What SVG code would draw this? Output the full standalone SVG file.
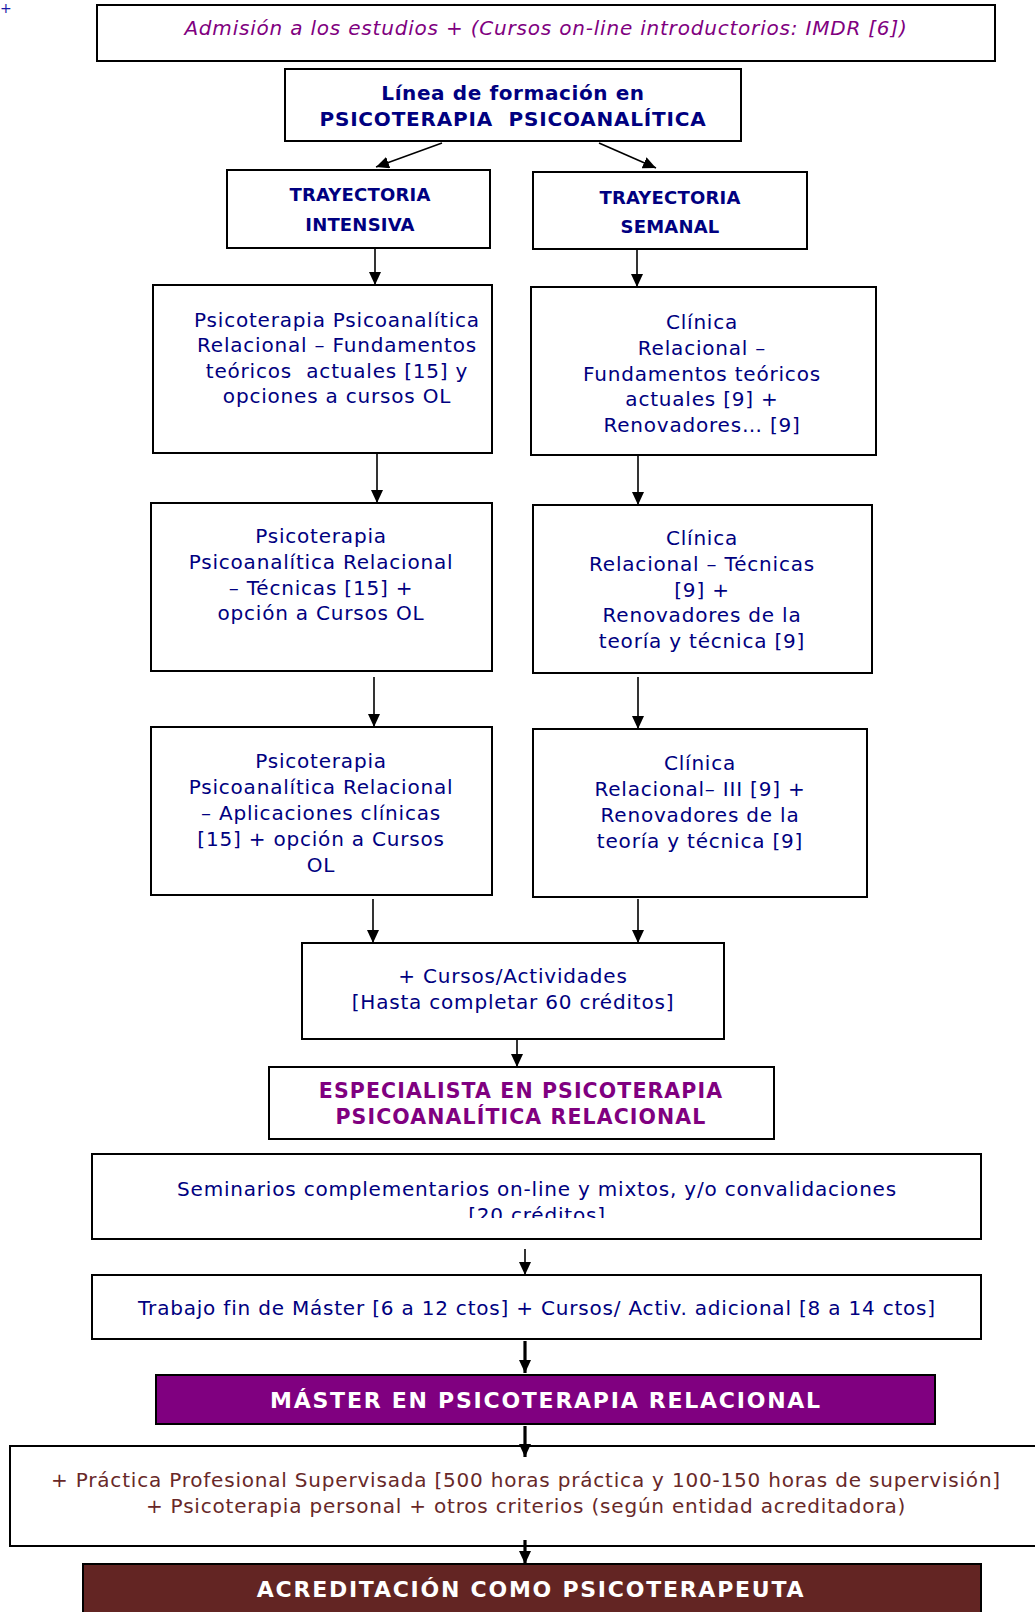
<svg xmlns="http://www.w3.org/2000/svg" width="1035" height="1612" viewBox="0 0 1035 1612">
<style>
.box{fill:#fff;stroke:#000;stroke-width:2}
.t{font-family:"DejaVu Sans",Verdana,sans-serif;font-size:20px;letter-spacing:0.8px;fill:#000080;text-anchor:middle}
.b{font-weight:bold}
.p{fill:#800080}
.m{fill:#682828}
.w{fill:#fff}
.c{stroke:#000;stroke-width:1.6;fill:none}
.k{stroke-width:3.2}
</style>
<defs>
<marker id="ah" markerUnits="userSpaceOnUse" markerWidth="14" markerHeight="12" refX="13" refY="6" orient="auto">
<path d="M0,0 L13,6 L0,12 z" fill="#000"/>
</marker>
<clipPath id="semclip"><rect x="92" y="1154" width="889" height="64"/></clipPath>
</defs>
<rect width="1035" height="1612" fill="#fff"/>
<text x="0" y="13" class="t" style="text-anchor:start;font-size:14px;letter-spacing:0;fill:#1a1aa6">+</text>

<g id="n-admision">
<rect class="box" x="97" y="5" width="898" height="56"/>
<text class="t p" x="546" y="35" style="font-style:italic">Admisión a los estudios + (Cursos on-line introductorios: IMDR [6])</text>
</g>
<g id="n-linea">
<rect class="box" x="285" y="69" width="456" height="72"/>
<text class="t b" x="513" y="100" style="font-size:20px;letter-spacing:0.6px">Línea de formación en</text>
<text class="t b" x="513" y="126" style="font-size:20px;letter-spacing:0.8px" xml:space="preserve">PSICOTERAPIA  PSICOANALÍTICA</text>
</g>
<g id="n-intensiva">
<rect class="box" x="227" y="170" width="263" height="78"/>
<text class="t b" x="360" y="201" style="font-size:18px;letter-spacing:0.2px">TRAYECTORIA</text>
<text class="t b" x="360" y="231" style="font-size:18px;letter-spacing:0.2px">INTENSIVA</text>
</g>
<g id="n-semanal">
<rect class="box" x="533" y="172" width="274" height="77"/>
<text class="t b" x="670" y="204" style="font-size:18px;letter-spacing:0.2px">TRAYECTORIA</text>
<text class="t b" x="670" y="233" style="font-size:18px;letter-spacing:0.2px">SEMANAL</text>
</g>
<g id="n-int1">
<rect class="box" x="153" y="285" width="339" height="168"/>
<text class="t" x="337" y="327">Psicoterapia Psicoanalítica</text>
<text class="t" x="337" y="352">Relacional – Fundamentos</text>
<text class="t" x="337" y="378" xml:space="preserve">teóricos  actuales [15] y</text>
<text class="t" x="337" y="403">opciones a cursos OL</text>
</g>
<g id="n-sem1">
<rect class="box" x="531" y="287" width="345" height="168"/>
<text class="t" x="702" y="329">Clínica</text>
<text class="t" x="702" y="355">Relacional –</text>
<text class="t" x="702" y="381">Fundamentos teóricos</text>
<text class="t" x="702" y="406">actuales [9] +</text>
<text class="t" x="702" y="432">Renovadores… [9]</text>
</g>
<g id="n-int2">
<rect class="box" x="151" y="503" width="341" height="168"/>
<text class="t" x="321" y="543">Psicoterapia</text>
<text class="t" x="321" y="569">Psicoanalítica Relacional</text>
<text class="t" x="321" y="595">– Técnicas [15] +</text>
<text class="t" x="321" y="620">opción a Cursos OL</text>
</g>
<g id="n-sem2">
<rect class="box" x="533" y="505" width="339" height="168"/>
<text class="t" x="702" y="545">Clínica</text>
<text class="t" x="702" y="571">Relacional – Técnicas</text>
<text class="t" x="702" y="597">[9] +</text>
<text class="t" x="702" y="622">Renovadores de la</text>
<text class="t" x="702" y="648">teoría y técnica [9]</text>
</g>
<g id="n-int3">
<rect class="box" x="151" y="727" width="341" height="168"/>
<text class="t" x="321" y="768">Psicoterapia</text>
<text class="t" x="321" y="794">Psicoanalítica Relacional</text>
<text class="t" x="321" y="820">– Aplicaciones clínicas</text>
<text class="t" x="321" y="846">[15] + opción a Cursos</text>
<text class="t" x="321" y="872">OL</text>
</g>
<g id="n-sem3">
<rect class="box" x="533" y="729" width="334" height="168"/>
<text class="t" x="700" y="770">Clínica</text>
<text class="t" x="700" y="796">Relacional– III [9] +</text>
<text class="t" x="700" y="822">Renovadores de la</text>
<text class="t" x="700" y="848">teoría y técnica [9]</text>
</g>
<g id="n-cursos">
<rect class="box" x="302" y="943" width="422" height="96"/>
<text class="t" x="513" y="983">+ Cursos/Actividades</text>
<text class="t" x="513" y="1009">[Hasta completar 60 créditos]</text>
</g>
<g id="n-especialista">
<rect class="box" x="269" y="1067" width="505" height="72"/>
<text class="t b p" x="521" y="1098" style="font-size:20.5px;letter-spacing:1.1px">ESPECIALISTA EN PSICOTERAPIA</text>
<text class="t b p" x="521" y="1124" style="font-size:20.5px;letter-spacing:1.1px">PSICOANALÍTICA RELACIONAL</text>
</g>
<g id="n-seminarios">
<rect class="box" x="92" y="1154" width="889" height="85"/>
<text class="t" x="537" y="1196">Seminarios complementarios on-line y mixtos, y/o convalidaciones</text>
<text class="t" x="537" y="1222" clip-path="url(#semclip)">[20 créditos]</text>
</g>
<g id="n-trabajo">
<rect class="box" x="92" y="1275" width="889" height="64"/>
<text class="t" x="537" y="1315">Trabajo fin de Máster [6 a 12 ctos] + Cursos/ Activ. adicional [8 a 14 ctos]</text>
</g>
<g id="n-master">
<rect class="box" x="156" y="1375" width="779" height="49" style="fill:#800080"/>
<text class="t b w" x="546" y="1408" style="font-size:22px;letter-spacing:1.75px">MÁSTER EN PSICOTERAPIA RELACIONAL</text>
</g>
<g id="n-practica">
<rect class="box" x="10" y="1446" width="1040" height="100"/>
<text class="t m" x="526" y="1487">+ Práctica Profesional Supervisada [500 horas práctica y 100-150 horas de supervisión]</text>
<text class="t m" x="526" y="1513">+ Psicoterapia personal + otros criterios (según entidad acreditadora)</text>
</g>
<g id="n-acreditacion">
<rect class="box" x="83" y="1564" width="898" height="60" style="fill:#632523"/>
<text class="t b w" x="531" y="1597" style="font-size:22px;letter-spacing:1.75px">ACREDITACIÓN COMO PSICOTERAPEUTA</text>
</g>

<g id="connectors">
<line class="c" x1="442" y1="143" x2="376" y2="167" marker-end="url(#ah)"/>
<line class="c" x1="599" y1="143" x2="656" y2="168" marker-end="url(#ah)"/>
<line class="c" x1="375" y1="248" x2="375" y2="285" marker-end="url(#ah)"/>
<line class="c" x1="637" y1="249" x2="637" y2="287" marker-end="url(#ah)"/>
<line class="c" x1="377" y1="453" x2="377" y2="503" marker-end="url(#ah)"/>
<line class="c" x1="638" y1="455" x2="638" y2="505" marker-end="url(#ah)"/>
<line class="c" x1="374" y1="677" x2="374" y2="727" marker-end="url(#ah)"/>
<line class="c" x1="638" y1="677" x2="638" y2="729" marker-end="url(#ah)"/>
<line class="c" x1="373" y1="899" x2="373" y2="943" marker-end="url(#ah)"/>
<line class="c" x1="638" y1="899" x2="638" y2="943" marker-end="url(#ah)"/>
<line class="c" x1="517" y1="1039" x2="517" y2="1067" marker-end="url(#ah)"/>
<line class="c" x1="525" y1="1249" x2="525" y2="1275" marker-end="url(#ah)"/>
<line class="c k" x1="525" y1="1341" x2="525" y2="1373" marker-end="url(#ah)"/>
<line class="c k" x1="525" y1="1426" x2="525" y2="1457" marker-end="url(#ah)"/>
<line class="c k" x1="525" y1="1540" x2="525" y2="1564" marker-end="url(#ah)"/>
</g>
</svg>
